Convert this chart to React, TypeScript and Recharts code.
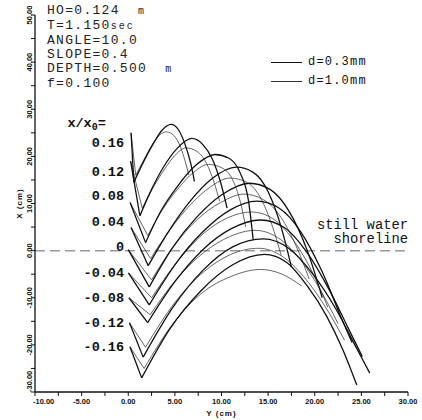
import React from "react";
import { ComposedChart, Line, Scatter, XAxis, YAxis, ReferenceLine } from "recharts";

// ---- axes ----
const xTicks = [-10, -7.5, -5, -2.5, 0, 2.5, 5, 7.5, 10, 12.5, 15, 17.5, 20, 22.5, 25, 27.5, 30];
const yTicks = [-30, -25, -20, -15, -10, -5, 0, 5, 10, 15, 20, 25, 30, 35, 40, 45, 50];

// ---- curve labels (x/x0) ----
const ratioLabels = ["0.16", "0.12", "0.08", "0.04", "0", "-0.04", "-0.08", "-0.12", "-0.16"];
const labelX = [23.0, 16.8, 11.7, 6.2, 0.85, -4.5, -10.0, -15.1, -20.4];
const labelAnchorY = -0.45;

// ---- start points of each trajectory (Y, X) ----
const startY = [0.3, 0.25, 0.2, 0.3, 0.0, 0.02, 0.07, 0.13, 0.18];
const startX = [25.0, 19.0, 10.2, 4.9, 0.2, -4.7, -10.0, -15.3, -20.4];

// ---- d = 0.3 mm trajectories after the cusp: [Y, X] ----
const thick016 = [[0.6, 14.5], [1.5, 18.3], [2.6, 22.4], [3.6, 25.5], [4.6, 26.8], [5.4, 25.6], [6.1, 22.5], [6.7, 18.5], [7.1, 14.7]];
const thick012 = [[1.25, 7.4], [2.5, 13.0], [3.8, 17.8], [5.2, 21.6], [6.8, 23.8], [8.0, 22.5], [9.0, 19.5], [9.9, 14.5], [10.6, 9.0]];
const thick008 = [[1.86, 1.7], [3.5, 8.4], [5.3, 13.7], [7.3, 18.2], [9.3, 20.4], [10.8, 19.6], [12.0, 16.5], [12.9, 10.5], [13.4, 2.3]];
const thick004 = [[2.14, -3.2], [4.3, 4.0], [6.6, 10.4], [9.0, 15.3], [11.6, 17.7], [13.4, 16.6], [15.0, 12.5], [16.4, 5.0], [17.5, -3.5]];
const thick000 = [[2.25, -7.7], [4.7, 0.5], [7.3, 7.0], [10.0, 11.8], [13.0, 14.3], [15.2, 13.0], [17.2, 8.5], [19.2, 0.0], [20.8, -10.0]];
const thickM004 = [[2.25, -11.5], [5.0, -3.0], [8.0, 4.0], [10.9, 8.6], [13.8, 10.5], [16.2, 9.0], [18.5, 4.0], [20.8, -4.5], [23.0, -15.0], [24.0, -19.5]];
const thickM008 = [[2.08, -15.3], [5.0, -6.6], [8.0, 0.2], [11.0, 4.6], [14.2, 6.5], [16.8, 4.8], [19.2, -0.5], [21.6, -8.5], [23.6, -16.5], [25.1, -22.5]];
const thickM012 = [[1.6, -22.6], [4.8, -12.0], [8.0, -4.2], [11.2, 0.8], [14.5, 2.5], [17.2, 0.5], [19.8, -5.0], [22.3, -12.5], [24.3, -20.0], [25.9, -26.0]];
const thickM016 = [[1.44, -27.0], [4.5, -16.5], [7.8, -8.5], [11.2, -3.0], [14.6, -0.8], [17.0, -2.5], [19.2, -7.5], [21.3, -14.0], [23.0, -21.0], [24.5, -28.5]];

// ---- d = 1.0 mm trajectories after the cusp: [Y, X] ----
const thin016 = [[0.8, 16.0], [1.6, 19.0], [2.6, 22.6], [3.4, 24.6], [4.1, 25.2], [4.9, 24.4], [5.6, 22.0], [6.1, 19.0], [6.5, 16.0]];
const thin012 = [[1.5, 9.0], [2.7, 13.5], [3.9, 17.3], [5.0, 20.2], [6.2, 21.8], [7.4, 21.0], [8.4, 18.5], [9.2, 14.5], [9.8, 10.5]];
const thin008 = [[2.1, 3.2], [3.7, 8.8], [5.4, 13.3], [7.0, 16.6], [8.6, 18.3], [10.0, 17.6], [11.2, 15.0], [12.0, 10.5], [12.6, 5.0]];
const thin004 = [[2.4, -1.7], [4.5, 4.5], [6.7, 9.8], [8.8, 13.5], [10.9, 15.4], [12.6, 14.6], [14.1, 11.5], [15.4, 5.5], [16.4, -1.0]];
const thin000 = [[2.5, -6.2], [4.9, 1.0], [7.4, 6.6], [9.9, 10.2], [12.4, 12.0], [14.5, 10.8], [16.4, 7.0], [18.0, 1.0], [19.4, -6.0]];
const thinM004 = [[2.5, -10.0], [5.2, -2.5], [8.0, 3.5], [10.7, 7.0], [13.2, 8.2], [15.5, 6.8], [17.6, 2.5], [19.6, -4.0], [21.4, -12.0]];
const thinM008 = [[2.35, -13.6], [5.2, -6.0], [8.1, -0.4], [10.9, 3.0], [13.6, 4.3], [16.0, 2.8], [18.3, -1.5], [20.5, -8.0], [22.5, -15.5]];
const thinM012 = [[1.85, -20.5], [5.0, -11.0], [8.1, -4.5], [11.0, -0.8], [14.0, 0.5], [16.5, -1.2], [18.8, -5.5], [21.0, -11.5], [23.2, -19.0]];
const thinM016 = [[1.7, -25.0], [4.8, -15.5], [7.9, -9.0], [11.0, -5.5], [14.2, -4.0], [16.5, -5.0], [18.6, -7.5]];

const thickArcs = [thick016, thick012, thick008, thick004, thick000, thickM004, thickM008, thickM012, thickM016];
const thinArcs = [thin016, thin012, thin008, thin004, thin000, thinM004, thinM008, thinM012, thinM016];

const toPts = (arr: number[][]) => arr.map(([y, x]) => ({ y, x }));
const descent = (i: number, arc: number[][]) => [
  { y: startY[i], x: startX[i] },
  { y: arc[0][0], x: arc[0][1] },
];

const labelPts = ratioLabels.map((text, i) => ({ y: labelAnchorY, x: labelX[i], text }));
const titlePt = [{ y: -2.4, x: 27.2 }];

const THICK = "#111";
const THIN = "#333";
const THICK_W = 1.3;
const THIN_W = 0.75;
const MONO = "'Liberation Mono', 'DejaVu Sans Mono', monospace";
const SANS = "'Liberation Sans', Arial, sans-serif";

const XTick = (props: any) => {
  const { x, y, payload } = props;
  const v = payload.value as number;
  if (v % 5 !== 0) return <g />;
  const first = v === -10;
  return (
    <text x={first ? x - 2 : x} y={y + 6} textAnchor={first ? "start" : "middle"} fontSize={7.5} fontWeight="bold" fontFamily={SANS} fill="#111">
      {v.toFixed(2)}
    </text>
  );
};

const YTick = (props: any) => {
  const { x, y, payload } = props;
  const v = payload.value as number;
  if (v % 10 !== 0) return <g />;
  const first = v === -30;
  return (
    <text transform={`translate(${x + 3},${y}) rotate(-90)`} textAnchor={first ? "start" : "middle"} fontSize={7.5} fontWeight="bold" fontFamily={SANS} fill="#111">
      {v.toFixed(2)}
    </text>
  );
};

const RatioLabel = (props: any) => {
  const { cx, cy, payload } = props;
  return (
    <text x={cx} y={cy} dy="0.35em" textAnchor="end" fontFamily={MONO} fontWeight="bold" fontSize={13.5} fill="#111">
      {payload.text}
    </text>
  );
};

const TitleLabel = (props: any) => {
  const { cx, cy } = props;
  return (
    <text x={cx} y={cy} dy="0.35em" textAnchor="end" fontFamily={MONO} fontWeight="bold" fontSize={13.5} fill="#111">
      x/x<tspan fontSize={10} dy="3">0</tspan><tspan dy="-3">=</tspan>
    </text>
  );
};

const ShoreLabel = (props: any) => {
  const vb = props.viewBox || {};
  const right = (vb.x || 0) + (vb.width || 0);
  const y0 = vb.y || 0;
  return (
    <g fontFamily={MONO} fontSize={13.8} fill="#111">
      <text x={right} y={y0 - 22} textAnchor="end">still water</text>
      <text x={right} y={y0 - 7.5} textAnchor="end">shoreline</text>
    </g>
  );
};

const YTitle = (props: any) => {
  const vb = props.viewBox || {};
  const cy = (vb.y || 0) + (vb.height || 0) / 2;
  return (
    <text transform={`translate(22,${cy}) rotate(-90)`} textAnchor="middle" fontSize={8} fontWeight="bold" fontFamily={SANS} letterSpacing={1} fill="#111">
      X (cm)
    </text>
  );
};

const XTitle = (props: any) => {
  const vb = props.viewBox || {};
  const cx = (vb.x || 0) + (vb.width || 0) / 2;
  const y = (vb.y || 0) + 24;
  return (
    <text x={cx} y={y} textAnchor="middle" fontSize={8} fontWeight="bold" fontFamily={SANS} letterSpacing={1} fill="#111">
      Y (cm)
    </text>
  );
};

const small: React.CSSProperties = { fontSize: 10, letterSpacing: 2, color: "#222" };

export default function App() {
  return (
    <div style={{ position: "absolute", left: 0, top: 0, width: 422, height: 420, background: "#fff" }}>
      <ComposedChart width={422} height={420} margin={{ top: 15, right: 14, left: 0, bottom: 0 }}>
        <XAxis
          type="number"
          dataKey="y"
          domain={[-10, 30]}
          allowDataOverflow
          ticks={xTicks}
          interval={0}
          tickSize={4}
          height={28}
          axisLine={{ stroke: "#111", strokeWidth: 1.3 }}
          tickLine={{ stroke: "#111" }}
          tick={<XTick />}
          label={<XTitle />}
        />
        <YAxis
          type="number"
          dataKey="x"
          domain={[-30, 50]}
          allowDataOverflow
          ticks={yTicks}
          interval={0}
          tickSize={4}
          width={35}
          axisLine={{ stroke: "#111", strokeWidth: 1.3 }}
          tickLine={{ stroke: "#111" }}
          tick={<YTick />}
          label={<YTitle />}
        />
        <ReferenceLine y={0} stroke="#999" strokeWidth={1.5} strokeDasharray="10 5" label={<ShoreLabel />} />
        {thinArcs.map((arc, i) => (
          <Line key={"td" + i} data={descent(i, arc)} dataKey="x" type="linear" stroke={THIN} strokeWidth={THIN_W} dot={false} isAnimationActive={false} />
        ))}
        {thinArcs.map((arc, i) => (
          <Line key={"ta" + i} data={toPts(arc)} dataKey="x" type="monotone" stroke={THIN} strokeWidth={THIN_W} dot={false} isAnimationActive={false} />
        ))}
        {thickArcs.map((arc, i) => (
          <Line key={"kd" + i} data={descent(i, arc)} dataKey="x" type="linear" stroke={THICK} strokeWidth={THICK_W} dot={false} isAnimationActive={false} />
        ))}
        {thickArcs.map((arc, i) => (
          <Line key={"ka" + i} data={toPts(arc)} dataKey="x" type="monotone" stroke={THICK} strokeWidth={THICK_W} dot={false} isAnimationActive={false} />
        ))}
        <Scatter data={labelPts} dataKey="x" shape={<RatioLabel />} isAnimationActive={false} />
        <Scatter data={titlePt} dataKey="x" shape={<TitleLabel />} isAnimationActive={false} />
      </ComposedChart>

      <div style={{ position: "absolute", left: 47, top: 4, fontFamily: MONO, fontSize: 13, lineHeight: "14px", letterSpacing: 1.3, color: "#222", whiteSpace: "pre" }}>
        <div>HO=0.124  <span style={small}>m</span></div>
        <div>T=1.150<span style={small}>sec</span></div>
        <div>ANGLE=10.0</div>
        <div>SLOPE=0.4</div>
        <div>DEPTH=0.500  <span style={small}>m</span></div>
        <div>f=0.100</div>
      </div>

      <div style={{ position: "absolute", left: 271, top: 54, fontFamily: MONO, fontSize: 12, letterSpacing: 1.2, color: "#111", whiteSpace: "pre" }}>
        <div style={{ display: "flex", alignItems: "center", height: 16 }}>
          <span style={{ display: "inline-block", width: 31, borderTop: "1.3px solid #111", marginRight: 6 }} />
          <span>d=0.3mm</span>
        </div>
        <div style={{ display: "flex", alignItems: "center", height: 18, marginTop: 2 }}>
          <span style={{ display: "inline-block", width: 31, borderTop: "0.75px solid #333", marginRight: 6 }} />
          <span>d=1.0mm</span>
        </div>
      </div>
    </div>
  );
}
